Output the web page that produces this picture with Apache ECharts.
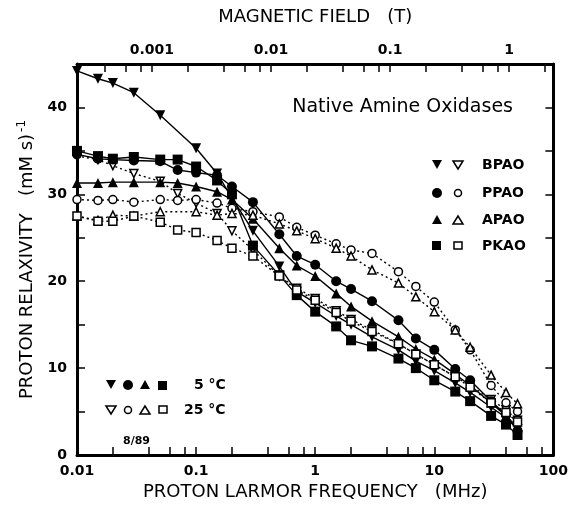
<!DOCTYPE html>
<html>
<head>
<meta charset="utf-8">
<script src="https://cdn.jsdelivr.net/npm/echarts@6/dist/echarts.min.js"></script>
<style>
html, body { margin: 0; padding: 0; background: #fff; }
#chart { width: 571px; height: 510px; }
</style>
</head>
<body>
<div id="chart"></div>
<script>
// proton larmor frequency (MHz) of the measured points
var freqMHz = [0.01, 0.015, 0.02, 0.03, 0.05, 0.07, 0.1, 0.15, 0.2, 0.3, 0.5, 0.7, 1, 1.5, 2, 3, 5, 7, 10, 15, 20, 30, 40, 50];

// relaxivity (mM s)^-1, 5 C (filled) and 25 C (open)
var bpao5  = [44.2, 43.3, 42.8, 41.7, 39.1, null, 35.3, 32.4, 29.6, 25.8, 21.7, 18.8, 17.5, 16.0, 15.0, 13.6, 12.1, 10.8, 9.7, 8.3, 7.2, 5.5, 4.3, 3.0];
var bpao25 = [34.4, 34.0, 33.3, 32.4, 31.5, 30.1, 29.0, 27.8, 25.8, 23.6, 20.6, 19.2, 18.0, 16.6, 15.6, 14.4, 12.8, 11.6, 10.4, 9.0, 8.0, 6.4, 5.2, 4.0];
var ppao5  = [34.6, 34.1, 34.0, 33.9, 33.8, 32.8, 32.5, 32.2, 30.9, 29.1, 25.4, 22.9, 21.9, 20.0, 19.1, 17.7, 15.5, 13.4, 12.1, 9.9, 8.6, 6.2, 4.6, 2.8];
var ppao25 = [29.4, 29.3, 29.4, 29.1, 29.4, 29.3, 29.4, 29.0, 28.4, 28.0, 27.4, 26.2, 25.3, 24.3, 23.6, 23.2, 21.1, 19.4, 17.6, 14.4, 12.1, 8.0, 6.0, 5.0];
var apao5  = [31.3, 31.3, 31.4, 31.4, 31.4, 31.3, 30.9, 30.3, 29.4, 27.2, 23.8, 21.8, 20.6, 18.6, 17.1, 15.4, 13.6, 12.2, 11.0, 9.3, 8.0, 6.0, 4.5, 3.2];
var apao25 = [27.5, 27.0, 27.6, 27.5, 28.0, null, 28.0, 27.6, 27.8, 27.6, 26.6, 25.8, 24.9, 23.8, 22.9, 21.3, 19.8, 18.2, 16.5, 14.4, 12.4, 9.2, 7.2, 5.9];
var pkao5  = [35.0, 34.4, 34.1, 34.3, 34.0, 34.0, 33.2, 31.6, 30.0, 24.1, 20.7, 18.4, 16.5, 14.8, 13.2, 12.5, 11.1, 10.0, 8.6, 7.3, 6.2, 4.5, 3.5, 2.3];
var pkao25 = [27.5, 26.9, 26.9, 27.5, 26.8, 25.9, 25.6, 24.7, 23.8, 22.9, 20.6, 19.0, 17.8, 16.4, 15.4, 14.2, 12.8, 11.6, 10.4, 9.0, 7.8, 6.0, 4.9, 3.8];

// tick labels
var freqTicks = [0.01, 0.1, 1, 10, 100];
var yTicks = [0, 10, 20, 30, 40];
var yAllTicks = [0, 5, 10, 15, 20, 25, 30, 35, 40];
var fieldTicksT = [0.001, 0.01, 0.1, 1];
var MHZ_PER_T = 42.58;

var log10 = function (v) { return Math.log(v) / Math.LN10; };
// decade ticks plus 2,4,6,8 in between, in log10 units
var decadeTicks = function (lo, hi) {
    var out = [];
    for (var e = lo; e <= hi; e++) {
        out.push(e);
        [2, 4, 6, 8].forEach(function (k) { out.push(log10(k) + e); });
    }
    return out;
};
var shiftT = log10(MHZ_PER_T);
var fmtPow = function (v) { return String(Number(Math.pow(10, v).toPrecision(3))); };

var chart = echarts.init(document.getElementById('chart'));

function mk(name, vals, symbol, rotate, filled) {
    return {
        name: name,
        type: 'line',
        xAxisIndex: 0,
        yAxisIndex: 0,
        data: freqMHz.map(function (f, i) { return [f, vals[i]]; })
                     .filter(function (p) { return p[1] != null; }),
        symbol: symbol,
        symbolRotate: rotate,
        symbolSize: filled ? 10 : 8,
        lineStyle: { color: '#000', width: 1.4, type: filled ? 'solid' : [2, 3] },
        itemStyle: filled ? { color: '#000' } : { color: '#fff', borderColor: '#000', borderWidth: 1.5 }
    };
}

var tickFont = { color: '#000', fontFamily: 'DejaVu Sans', fontWeight: 'bold', fontSize: 14 };
var nameFont = { color: '#000', fontFamily: 'DejaVu Sans', fontSize: 18 };
function frame() { return { show: true, onZero: false, lineStyle: { color: '#000', width: 3 } }; }
function tick(vals) {
    return { show: true, inside: true, length: 8, customValues: vals, lineStyle: { color: '#000', width: 1.5 } };
}

chart.setOption({
    animation: false,
    grid: { left: 77, right: 16, top: 64, bottom: 55 },
    xAxis: [
        {   // log axis the data sits on
            type: 'log', min: 0.01, max: 100, show: false
        },
        {   // bottom frequency axis (log10 units)
            type: 'value', min: -2, max: 2, position: 'bottom',
            axisLine: frame(), splitLine: { show: false },
            axisTick: tick(decadeTicks(-2, 1).concat([2])),
            axisLabel: Object.assign({ margin: 9, customValues: freqTicks.map(log10), formatter: fmtPow }, tickFont),
            name: 'PROTON LARMOR FREQUENCY   (MHz)', nameLocation: 'middle', nameGap: 26,
            nameTextStyle: nameFont
        },
        {   // magnetic field axis on top (log10 units)
            type: 'value', min: -2 - shiftT, max: 2 - shiftT, position: 'top',
            axisLine: frame(), splitLine: { show: false },
            axisTick: tick(decadeTicks(-4, 0).filter(function (v) { return v > -2 - shiftT && v < 2 - shiftT; })),
            axisLabel: Object.assign({ margin: 7, customValues: fieldTicksT.map(log10), formatter: fmtPow }, tickFont),
            name: 'MAGNETIC FIELD   (T)', nameLocation: 'middle', nameGap: 38,
            nameTextStyle: nameFont
        }
    ],
    yAxis: [
        {
            type: 'value', min: 0, max: 45, position: 'left',
            axisLine: frame(), splitLine: { show: false },
            axisTick: tick(yAllTicks),
            axisLabel: Object.assign({ margin: 10, customValues: yTicks }, tickFont),
            name: '{a|PROTON RELAXIVITY   (mM s)}{b|-1}', nameLocation: 'middle', nameGap: 36,
            nameTextStyle: {
                rich: {
                    a: { color: '#000', fontFamily: 'DejaVu Sans', fontSize: 18 },
                    b: { color: '#000', fontFamily: 'DejaVu Sans', fontSize: 12, padding: [0, 0, 12, 2] }
                }
            }
        },
        {
            type: 'value', min: 0, max: 45, position: 'right',
            axisLine: frame(), splitLine: { show: false }, axisLabel: { show: false },
            axisTick: tick(yAllTicks)
        }
    ],
    graphic: [
        { type: 'text', right: 58, top: 98, style: { text: 'Native Amine Oxidases', fill: '#000', font: '19px "DejaVu Sans"' } },

        // legend on the right
        { type: 'polygon', shape: { points: [[432, 160], [442, 160], [437, 169]] }, style: { fill: '#000' } },
        { type: 'polygon', shape: { points: [[453, 161], [463, 161], [458, 169]] }, style: { fill: '#fff', stroke: '#000', lineWidth: 1.5 } },
        { type: 'text', left: 482, top: 158, style: { text: 'BPAO', fill: '#000', font: 'bold 14px "DejaVu Sans"' } },
        { type: 'circle', shape: { cx: 437, cy: 193, r: 5 }, style: { fill: '#000' } },
        { type: 'circle', shape: { cx: 458, cy: 193, r: 3.5 }, style: { fill: '#fff', stroke: '#000', lineWidth: 1.5 } },
        { type: 'text', left: 482, top: 186, style: { text: 'PPAO', fill: '#000', font: 'bold 14px "DejaVu Sans"' } },
        { type: 'polygon', shape: { points: [[432, 224], [442, 224], [437, 215]] }, style: { fill: '#000' } },
        { type: 'polygon', shape: { points: [[453, 224], [463, 224], [458, 216]] }, style: { fill: '#fff', stroke: '#000', lineWidth: 1.5 } },
        { type: 'text', left: 482, top: 213, style: { text: 'APAO', fill: '#000', font: 'bold 14px "DejaVu Sans"' } },
        { type: 'rect', shape: { x: 432, y: 241, width: 9, height: 9 }, style: { fill: '#000' } },
        { type: 'rect', shape: { x: 454, y: 242, width: 8, height: 7 }, style: { fill: '#fff', stroke: '#000', lineWidth: 1.5 } },
        { type: 'text', left: 482, top: 239, style: { text: 'PKAO', fill: '#000', font: 'bold 14px "DejaVu Sans"' } },

        // temperature legend bottom left
        { type: 'polygon', shape: { points: [[106, 380], [116, 380], [111, 389]] }, style: { fill: '#000' } },
        { type: 'circle', shape: { cx: 128, cy: 385, r: 5 }, style: { fill: '#000' } },
        { type: 'polygon', shape: { points: [[140, 389], [150, 389], [145, 380]] }, style: { fill: '#000' } },
        { type: 'rect', shape: { x: 158, y: 381, width: 9, height: 9 }, style: { fill: '#000' } },
        { type: 'text', left: 194, top: 378, style: { text: '5 °C', fill: '#000', font: 'bold 14px "DejaVu Sans"' } },
        { type: 'polygon', shape: { points: [[106, 406], [116, 406], [111, 414]] }, style: { fill: '#fff', stroke: '#000', lineWidth: 1.5 } },
        { type: 'circle', shape: { cx: 128, cy: 410, r: 3.5 }, style: { fill: '#fff', stroke: '#000', lineWidth: 1.5 } },
        { type: 'polygon', shape: { points: [[140, 414], [150, 414], [145, 406]] }, style: { fill: '#fff', stroke: '#000', lineWidth: 1.5 } },
        { type: 'rect', shape: { x: 159, y: 406, width: 8, height: 7 }, style: { fill: '#fff', stroke: '#000', lineWidth: 1.5 } },
        { type: 'text', left: 184, top: 403, style: { text: '25 °C', fill: '#000', font: 'bold 14px "DejaVu Sans"' } },

        { type: 'text', left: 123, top: 436, style: { text: '8/89', fill: '#000', font: 'bold 11px "DejaVu Sans"' } }
    ],
    series: [
        mk('BPAO 5', bpao5, 'triangle', 180, true),
        mk('BPAO 25', bpao25, 'triangle', 180, false),
        mk('PPAO 5', ppao5, 'circle', 0, true),
        mk('PPAO 25', ppao25, 'circle', 0, false),
        mk('APAO 5', apao5, 'triangle', 0, true),
        mk('APAO 25', apao25, 'triangle', 0, false),
        mk('PKAO 5', pkao5, 'rect', 0, true),
        mk('PKAO 25', pkao25, 'rect', 0, false)
    ]
});
</script>
</body>
</html>
